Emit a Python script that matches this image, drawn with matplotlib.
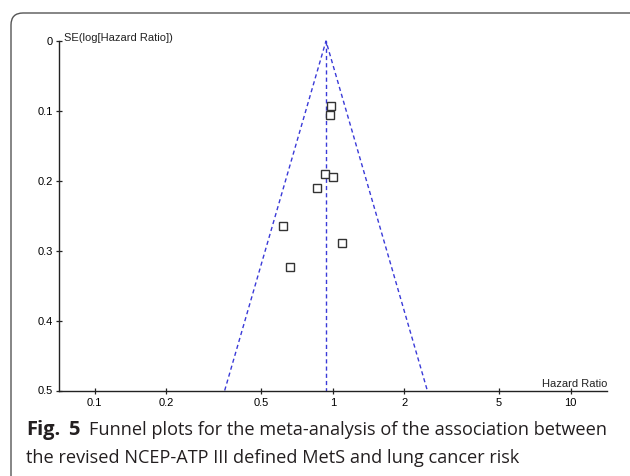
import matplotlib
matplotlib.use("Agg")
import matplotlib.pyplot as plt
import numpy as np
from matplotlib.patches import FancyBboxPatch
from matplotlib.transforms import IdentityTransform

# ---- data ----
hazard_ratio = [0.984, 0.974, 0.928, 1.003, 0.859, 0.618, 1.094, 0.662]
se_log_hr = [0.0934, 0.1057, 0.190, 0.194, 0.210, 0.264, 0.289, 0.323]
pooled_hr = 0.937
se_max = 0.5
x_ticks = [0.1, 0.2, 0.5, 1, 2, 5, 10]
x_tick_labels = ["0.1", "0.2", "0.5", "1", "2", "5", "10"]
y_ticks = [0, 0.1, 0.2, 0.3, 0.4, 0.5]
y_tick_labels = ["0", "0.1", "0.2", "0.3", "0.4", "0.5"]

W, H = 630, 476
fig = plt.figure(figsize=(W / 100, H / 100), dpi=100)
fig.patch.set_facecolor("white")

ax = fig.add_axes([58.7 / W, 1 - 390.5 / H, (607 - 58.7) / W, (390.5 - 41) / H])
ax.set_xscale("log")
ax.set_xlim(0.0706, 14.2)
ax.set_ylim(se_max, 0)

for s in ["top", "right"]:
    ax.spines[s].set_visible(False)
for s in ["left", "bottom"]:
    ax.spines[s].set_color("#222222")
    ax.spines[s].set_linewidth(1.0)

font = "Liberation Sans"
ax.set_xticks(x_ticks)
ax.set_xticklabels(x_tick_labels, fontsize=8, family=font)
ax.set_yticks(y_ticks)
ax.set_yticklabels(y_tick_labels, fontsize=8, family=font)
ax.xaxis.set_minor_locator(matplotlib.ticker.NullLocator())
ax.tick_params(axis="x", direction="inout", length=5, width=0.9, pad=3, color="#222222")
ax.tick_params(axis="y", direction="inout", length=4.5, width=0.9, pad=2, color="#222222")

blue = "#3a3ad8"
dash = (0, (3, 2.2))
lo = pooled_hr * np.exp(-1.96 * se_max)
hi = pooled_hr * np.exp(1.96 * se_max)
ax.plot([lo, pooled_hr, hi], [se_max, 0, se_max], color=blue, lw=1.0,
        linestyle=dash, clip_on=False)
ax.plot([pooled_hr, pooled_hr], [0, se_max], color=blue, lw=1.0,
        linestyle=dash, clip_on=False)

ax.plot(hazard_ratio, se_log_hr, linestyle="none", marker="s", markersize=6.3,
        markerfacecolor="white", markeredgecolor="#333333", markeredgewidth=1.0,
        clip_on=False, zorder=5)

ax.text(63.5 / W, 1 - 41 / H, "SE(log[Hazard Ratio])", transform=fig.transFigure,
        fontsize=8, family=font, ha="left", va="baseline", color="#222222")
ax.text(607 / W, 1 - 387 / H, "Hazard Ratio", transform=fig.transFigure,
        fontsize=8, family=font, ha="right", va="baseline", color="#222222")

# frame
frame = FancyBboxPatch((11, -20), 640, H - 13 + 20,
                       boxstyle="round,pad=0,rounding_size=12",
                       transform=IdentityTransform(), facecolor="none",
                       edgecolor="#555555", linewidth=1.0)
fig.patches.append(frame)

cap_font = "Open Sans"
cap_col = "#231f20"
fig.text(26 / W, 1 - 435 / H, "Fig.", fontsize=14.5, family=cap_font,
         weight="bold", color=cap_col, va="baseline", ha="left")
fig.text(68 / W, 1 - 435 / H, "5", fontsize=14.5, family=cap_font,
         weight="bold", color=cap_col, va="baseline", ha="left")
fig.text(89 / W, 1 - 435 / H,
         "Funnel plots for the meta-analysis of the association between",
         fontsize=13.1, family=cap_font, color=cap_col, va="baseline", ha="left")
fig.text(26 / W, 1 - 463.3 / H,
         "the revised NCEP-ATP III defined MetS and lung cancer risk",
         fontsize=13.1, family=cap_font, color=cap_col, va="baseline", ha="left")

fig.savefig("out.png", dpi=100)
